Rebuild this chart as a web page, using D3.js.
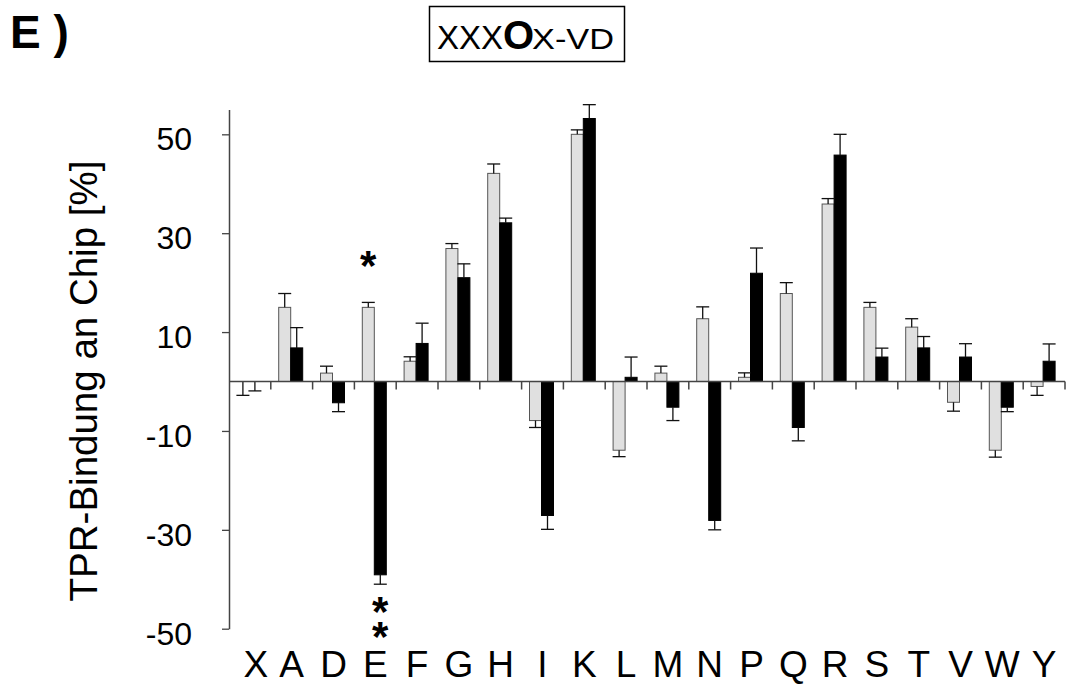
<!DOCTYPE html>
<html>
<head>
<meta charset="utf-8">
<script src="https://cdn.jsdelivr.net/npm/d3@7"></script>
<style>
  html, body { margin: 0; padding: 0; background: #fff; }
  svg { display: block; font-family: "Liberation Sans", Arial, sans-serif; }
  .stack { writing-mode: vertical-rl; text-orientation: upright; }
</style>
</head>
<body>
<svg id="chart" width="1067" height="684"></svg>
<script>
// Amino-acid substitutions at the marked position
const categories = ["X","A","D","E","F","G","H","I","K","L","M","N","P","Q","R","S","T","V","W","Y"];

// Series 1 (light bars) – binding change in %, with error
const lightValues = [0, 15, 1.7, 15, 4.1, 26.9, 42.1, -7.9, 50, -13.9, 1.7, 12.7, 0.85, 17.8, 35.9, 15, 11, -4.2, -13.9, -1];
const lightErrors = [2.8, 2.8, 1.4, 1, 0.9, 1, 1.9, 1.4, 0.9, 1.3, 1.4, 2.4, 0.9, 2.2, 1.1, 1, 1.7, 1.8, 1.4, 1.8];

// Series 2 (dark bars)
const darkValues = [0, 6.8, -4.3, -39.1, 7.7, 21, 32.1, -27.1, 53.2, 0.85, -5.2, -28.1, 21.9, -9.3, 45.8, 4.95, 6.8, 4.95, -5.2, 4.1];
const darkErrors = [1.9, 4.1, 1.8, 1.9, 4.1, 2.8, 0.95, 2.8, 2.8, 4.1, 2.7, 1.9, 5.1, 2.7, 4.2, 1.8, 2.3, 2.7, 0.9, 3.5];

// Axis ticks
const yTickValues = [-50, -30, -10, 10, 30, 50];
const yTickLabels = ["-50", "-30", "-10", "10", "30", "50"];

// Significance marks: category, series, number of stars
const sigMarks = [
  { cat: "E", series: "light", stars: 1 },
  { cat: "E", series: "dark", stars: 2 }
];

const svg = d3.select("#chart");
const font = '"Liberation Sans", Arial, sans-serif';

const x = d3.scaleBand().domain(categories).range([229, 1065]).padding(0);
const y = d3.scaleLinear().domain([-50, 55]).range([628.7, 109.6]);
const barW = 12;
const inner = d3.scaleBand().domain(["light", "dark"]).range([-barW - 1, barW - 1]).padding(0);
const cx = c => x(c) + x.bandwidth() / 2;

const rows = [];
categories.forEach((c, i) => {
  rows.push({ cat: c, series: "light", v: lightValues[i], e: lightErrors[i] });
  rows.push({ cat: c, series: "dark", v: darkValues[i], e: darkErrors[i] });
});

// Bars
const g = svg.append("g");
g.selectAll("rect.bar").data(rows).join("rect")
  .attr("class", "bar")
  .attr("x", d => cx(d.cat) + inner(d.series))
  .attr("width", inner.bandwidth())
  .attr("y", d => y(Math.max(0, d.v)))
  .attr("height", d => Math.abs(y(d.v) - y(0)))
  .attr("fill", d => d.series === "light" ? "#e0e0e0" : "#000")
  .attr("stroke", d => d.series === "light" ? "#555" : "#000")
  .attr("stroke-width", 1);

// Error bars (drawn away from zero)
const errG = g.append("g").attr("stroke", "#111").attr("stroke-width", 1.3).attr("fill", "none");
rows.forEach(d => {
  const dir = d.v > 0 ? 1 : -1;
  const xm = cx(d.cat) + inner(d.series) + inner.bandwidth() / 2;
  const y0 = y(d.v), y1 = y(d.v + dir * d.e);
  errG.append("line").attr("x1", xm).attr("x2", xm).attr("y1", y0).attr("y2", y1);
  errG.append("line").attr("x1", xm - 6.5).attr("x2", xm + 6.5).attr("y1", y1).attr("y2", y1);
});

// Zero line with category separators
const axG = svg.append("g").attr("stroke", "#444").attr("stroke-width", 1.5);
axG.append("line").attr("x1", x.range()[0]).attr("x2", x.range()[1])
  .attr("y1", y(0)).attr("y2", y(0));
categories.forEach(c => {
  const xb = x(c) + x.bandwidth();
  axG.append("line").attr("x1", xb).attr("x2", xb)
    .attr("y1", y(0)).attr("y2", y(0) + 8);
});

// Y axis
const yAxis = d3.axisLeft(y).tickValues(yTickValues)
  .tickFormat((d, i) => yTickLabels[i]).tickSize(7).tickSizeOuter(0);
const yg = svg.append("g").attr("transform", "translate(229,0)").call(yAxis);
yg.select(".domain").attr("stroke", "#444").attr("stroke-width", 1.5);
yg.selectAll(".tick line").attr("stroke", "#444").attr("stroke-width", 1.3);
yg.selectAll(".tick text")
  .attr("x", -37).attr("dy", 15.5)
  .attr("font-family", font).attr("font-size", 32).attr("fill", "#000");

// Category labels
const labelDx = { X: 6 };
svg.append("g").selectAll("text").data(categories).join("text")
  .attr("x", c => cx(c) + (labelDx[c] || 0))
  .attr("y", 677)
  .attr("text-anchor", "middle")
  .attr("font-family", font).attr("font-size", 37).attr("fill", "#000")
  .text(c => c);

// Y axis title
svg.append("text")
  .attr("transform", "translate(97,381) rotate(-90)")
  .attr("text-anchor", "middle")
  .attr("font-family", font).attr("font-size", 38.5).attr("fill", "#000")
  .text("TPR-Bindung an Chip [%]");

// Significance asterisks: above positive bars, stacked in a column below negative bars
sigMarks.forEach(m => {
  const idx = categories.indexOf(m.cat);
  const v = m.series === "light" ? lightValues[idx] : darkValues[idx];
  const e = m.series === "light" ? lightErrors[idx] : darkErrors[idx];
  const xm = cx(m.cat) + inner(m.series) + inner.bandwidth() / 2;
  const t = svg.append("text")
    .attr("font-family", font).attr("font-weight", "bold").attr("font-size", 42)
    .text("*".repeat(m.stars));
  if (v > 0) {
    t.attr("text-anchor", "middle").attr("x", xm).attr("y", y(v + e) - 22);
  } else {
    t.attr("class", "stack")
      .attr("x", xm).attr("y", y(v - e) + 4)
      .style("letter-spacing", "-22px");
  }
});

// Panel letter
svg.append("text").attr("x", 10).attr("y", 48)
  .attr("font-family", font).attr("font-weight", "bold").attr("font-size", 46)
  .text("E )");

// Boxed motif title
svg.append("rect").attr("x", 429.5).attr("y", 6.5).attr("width", 195).attr("height", 55)
  .attr("fill", "none").attr("stroke", "#000").attr("stroke-width", 1.5);
svg.append("text").attr("x", 437).attr("y", 48.5)
  .attr("font-family", font).attr("font-size", 34)
  .attr("textLength", 66).attr("lengthAdjust", "spacingAndGlyphs").text("XXX");
svg.append("text").attr("x", 503).attr("y", 49)
  .attr("font-family", font).attr("font-weight", "bold").attr("font-size", 40).text("O");
svg.append("text").attr("x", 532).attr("y", 48.5)
  .attr("font-family", font).attr("font-size", 29)
  .attr("textLength", 82).attr("lengthAdjust", "spacingAndGlyphs").text("X-VD");
</script>
</body>
</html>
